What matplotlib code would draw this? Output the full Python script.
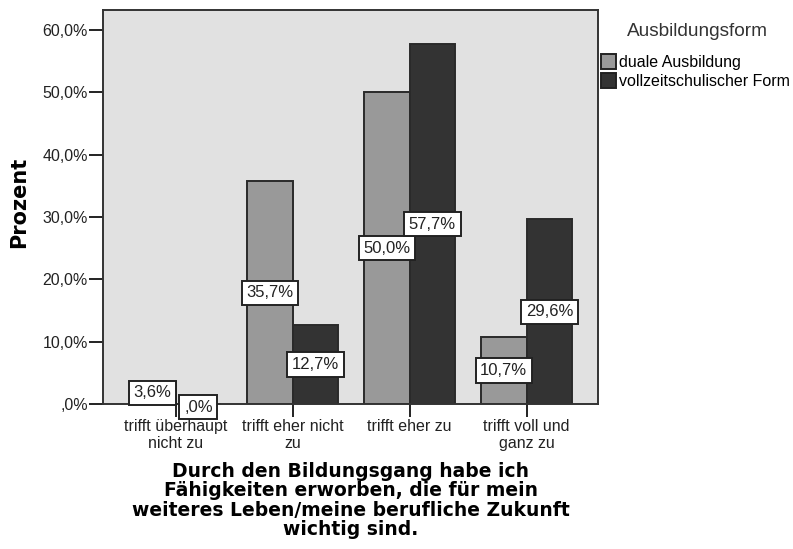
import matplotlib
matplotlib.use("Agg")
import matplotlib.pyplot as plt
import numpy as np
from matplotlib.patches import Patch

plt.rcParams['font.family'] = ['Liberation Sans', 'DejaVu Sans']

categories = ["trifft überhaupt\nnicht zu", "trifft eher nicht\nzu", "trifft eher zu", "trifft voll und\nganz zu"]
series_names = ["duale Ausbildung", "vollzeitschulischer Form"]
duale = [3.6, 35.7, 50.0, 10.7]
vollzeit = [0.0, 12.7, 57.7, 29.6]
y_ticks = [0, 10, 20, 30, 40, 50, 60]

colors = ["#999999", "#333333"]


def pct(v):
    s = f"{v:.1f}%".replace(".", ",")
    return s[1:] if s.startswith("0") else s


fig = plt.figure(figsize=(7.93, 5.49), dpi=100)
ax = fig.add_axes([103 / 793, 1 - 404 / 549, 495 / 793, 394 / 549])
ax.set_facecolor("#e1e1e1")

x = np.arange(len(categories))
w = 0.39
for offs, vals, col in [(-w / 2, duale, colors[0]), (w / 2, vollzeit, colors[1])]:
    ax.bar(x + offs, vals, width=w, color=col, edgecolor="#2a2a2a", linewidth=1.4, zorder=2)
    for xi, v in zip(x + offs, vals):
        ax.text(xi, max(v / 2, 1.1) if v > 0 else -0.5, pct(v), ha="center", va="center",
                fontsize=12, color="#222222", zorder=3,
                bbox=dict(boxstyle="square,pad=0.28", fc="white", ec="#222222", lw=1.4))

ax.set_xlim(-0.62, 3.61)
ax.set_ylim(0, 63.2)
ax.set_xticks(x)
ax.set_xticklabels(categories, fontsize=11.5, linespacing=1.15, color="#222222")
ax.set_yticks(y_ticks)
ax.set_yticklabels([pct(t) for t in y_ticks], fontsize=11.5, color="#222222")
ax.tick_params(axis="y", direction="out", length=10, width=1.4, pad=1, color="#222222")
ax.tick_params(axis="x", direction="out", length=9, width=1.4, pad=2, color="#222222")
for s in ax.spines.values():
    s.set_linewidth(1.4)
    s.set_color("#333333")

ax.set_ylabel("Prozent", fontsize=15, fontweight="bold", family="DejaVu Sans")
ax.yaxis.set_label_coords(-74 / 495, (404 - 202) / 394)
ax.set_xlabel("Durch den Bildungsgang habe ich\nFähigkeiten erworben, die für mein\nweiteres Leben/meine berufliche Zukunft\nwichtig sind.",
              fontsize=13.5, fontweight="bold", family="DejaVu Sans", linespacing=1.02)
ax.xaxis.set_label_coords(0.5, -(462 - 404) / 394)
ax.xaxis.label.set_va("top")

fig.text(697 / 793, 1 - 31 / 549, "Ausbildungsform", ha="center", va="center", fontsize=13.7, color="#333333")
handles = [Patch(facecolor=c, edgecolor="#222222", lw=1.4) for c in colors]
fig.legend(handles, series_names, loc="upper left", bbox_to_anchor=(601 / 793, 1 - 54 / 549),
           frameon=False, fontsize=11.5, handlelength=0.95, handleheight=1.05, handletextpad=0.15,
           labelspacing=0.2, borderaxespad=0, borderpad=0)

fig.savefig("out.png", dpi=100)
